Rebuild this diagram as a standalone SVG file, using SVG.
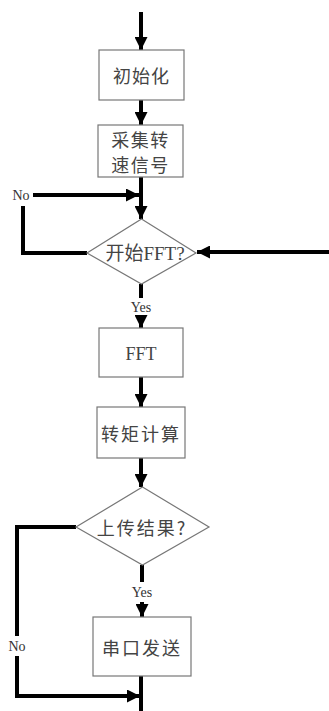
<svg xmlns="http://www.w3.org/2000/svg" width="329" height="711" viewBox="0 0 329 711">
<style>
.box{fill:#fff;stroke:#777;stroke-width:1.2}
.lbl{font-family:"Noto Sans CJK SC","Liberation Serif",serif;font-size:18px;fill:#444;text-anchor:middle;dominant-baseline:central}
.lat{font-family:"Liberation Serif","Noto Sans CJK SC",serif;fill:#444;text-anchor:middle;dominant-baseline:central}
.cn{fill:none;stroke:#000;stroke-width:4}
.sm{font-family:"Liberation Serif",serif;font-size:14px;fill:#333;text-anchor:middle;dominant-baseline:central}
</style>
<defs>
<marker id="ah" markerUnits="userSpaceOnUse" markerWidth="14" markerHeight="13" refX="13" refY="6.5" orient="auto" viewBox="0 0 14 13">
<path d="M0,0 L13,6.5 L0,13 z" fill="#000"/>
</marker>
</defs>
<rect width="329" height="711" fill="#fff"/>
<g id="connectors">
<path class="cn" d="M141,12 V50" marker-end="url(#ah)"/>
<path class="cn" d="M141,100 V125" marker-end="url(#ah)"/>
<path class="cn" d="M141,177 V219" marker-end="url(#ah)"/>
<path class="cn" d="M87,253 H23 V206"/>
<path class="cn" d="M33,195 H139" marker-end="url(#ah)"/>
<text class="sm" x="21" y="195">No</text>
<path class="cn" d="M329,252 H197" marker-end="url(#ah)"/>
<path class="cn" d="M141,284 V298"/>
<text class="sm" x="141" y="307">Yes</text>
<path class="cn" d="M141,316 V328" marker-end="url(#ah)"/>
<path class="cn" d="M141,377 V407" marker-end="url(#ah)"/>
<path class="cn" d="M141,458 V487" marker-end="url(#ah)"/>
<path class="cn" d="M142,565 V582"/>
<text class="sm" x="142" y="592">Yes</text>
<path class="cn" d="M142,602 V617" marker-end="url(#ah)"/>
<path class="cn" d="M76,527 H17 V636"/>
<text class="sm" x="17" y="646">No</text>
<path class="cn" d="M17,656 V696 H140" marker-end="url(#ah)"/>
<path class="cn" d="M141,676 V711"/>
</g>
<g id="init">
<rect class="box" x="99" y="50" width="85" height="50"/>
<text class="lbl" x="141.5" y="75" letter-spacing="1">初始化</text>
</g>
<g id="collect">
<rect class="box" x="98" y="125" width="85" height="52"/>
<text class="lbl" x="140.5" y="139" font-size="17" letter-spacing="1.5">采集转</text>
<text class="lbl" x="140.5" y="164" font-size="17" letter-spacing="1.5">速信号</text>
</g>
<g id="startfft">
<polygon class="box" points="141.5,219 196,253 141.5,284 87,253"/>
<text class="lat" x="145" y="253" font-size="19">开始FFT?</text>
</g>
<g id="fft">
<rect class="box" x="99" y="328" width="84" height="49"/>
<text class="lat" x="141" y="354" font-size="18">FFT</text>
</g>
<g id="torque">
<rect class="box" x="97" y="407" width="88" height="51"/>
<text class="lbl" x="141" y="433" letter-spacing="2">转矩计算</text>
</g>
<g id="upload">
<polygon class="box" points="142.5,487 209,527 142.5,565 76,527"/>
<text class="lbl" x="142" y="527" letter-spacing="2">上传结果?</text>
</g>
<g id="serial">
<rect class="box" x="93" y="617" width="98" height="59"/>
<text class="lbl" x="142" y="647" letter-spacing="2">串口发送</text>
</g>
</svg>
